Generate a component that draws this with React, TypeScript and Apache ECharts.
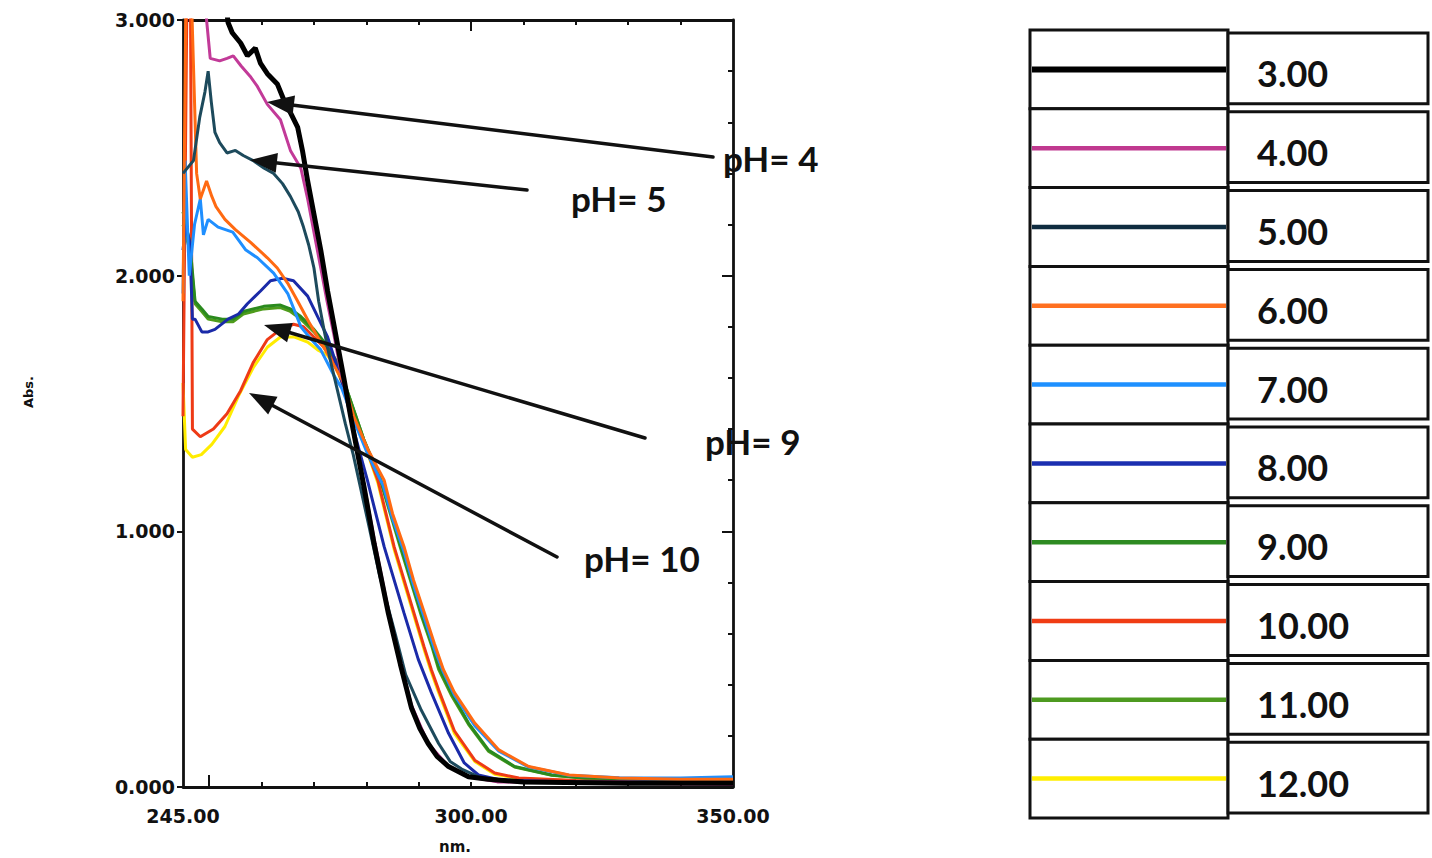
import React, { useEffect, useRef } from 'react';
import * as echarts from 'echarts';

// ---- data ----
const PH_LABELS = ['3.00', '4.00', '5.00', '6.00', '7.00', '8.00', '9.00', '10.00', '11.00', '12.00'];

const ph3 = [[245,3.3],[250,3.3],[253,3.1],[253.6,2.99],[254.4,2.95],[256,2.91],[257.3,2.86],[258.8,2.89],[259.8,2.83],[261.1,2.79],[263,2.75],[264.2,2.69],[265.2,2.65],[266.9,2.58],[267.8,2.49],[268.8,2.37],[270,2.24],[271.3,2.1],[272.6,1.94],[273.7,1.82],[274.6,1.72],[275.7,1.6],[277,1.45],[278.2,1.32],[279.5,1.18],[281.5,0.95],[284.2,0.68],[286.5,0.48],[288.6,0.31],[290.2,0.23],[291.8,0.17],[293.5,0.12],[295.7,0.08],[299.5,0.04],[303.3,0.03],[310,0.02],[330,0.015],[350,0.015]];
const ph4 = [[245,3.3],[248.6,3.3],[249.5,3.0],[250.2,2.85],[252,2.84],[253.4,2.85],[254.6,2.86],[256.1,2.82],[257.8,2.78],[259.2,2.74],[261.1,2.67],[263.6,2.61],[265.5,2.49],[267.5,2.42],[268.8,2.3],[270,2.17],[271.3,2.03],[272.5,1.9],[273.8,1.77],[275,1.64],[276.5,1.5],[278,1.35],[279.5,1.19],[281.5,0.97],[284.2,0.69],[286.5,0.49],[288.6,0.32],[291.8,0.17],[295.7,0.08],[299.5,0.04],[305,0.02],[350,0.01]];
const ph5 = [[245,2.4],[247,2.45],[248.2,2.62],[249.2,2.72],[249.8,2.8],[250.4,2.68],[251.1,2.56],[252,2.52],[253.4,2.48],[255,2.49],[256.5,2.47],[258.4,2.45],[260.5,2.42],[262.3,2.4],[264,2.36],[265.5,2.31],[267,2.25],[268,2.19],[269,2.12],[270,2.03],[270.9,1.9],[272,1.78],[273,1.68],[274.5,1.55],[276,1.42],[277.5,1.3],[279,1.16],[280.5,1.02],[282.5,0.83],[285.5,0.6],[287.5,0.44],[290.5,0.3],[293.8,0.17],[296,0.1],[298.2,0.07],[302,0.035],[310,0.02],[350,0.015]];
const ph6 = [[245,1.9],[245.6,3.2],[246.6,3.1],[247.6,2.4],[248.3,2.3],[249.5,2.37],[250.5,2.31],[251.3,2.27],[253,2.22],[255,2.18],[257.9,2.13],[261.1,2.07],[263,2.03],[265,1.97],[266.9,1.9],[269,1.82],[271,1.75],[273,1.68],[275.7,1.58],[277.6,1.45],[280.3,1.32],[283.4,1.2],[285,1.07],[287.2,0.94],[289,0.81],[291.1,0.68],[293,0.56],[294.7,0.46],[296.8,0.37],[300.7,0.25],[305.3,0.145],[311,0.08],[318.7,0.047],[328.3,0.035],[340,0.03],[350,0.03]];
const ph7 = [[245,1.93],[245.4,2.45],[246.2,2.0],[247.2,2.2],[248.3,2.3],[248.9,2.16],[249.8,2.22],[251.7,2.19],[254.5,2.17],[257,2.1],[259.2,2.07],[262.3,2.01],[265,1.93],[267.5,1.8],[269.5,1.75],[271.3,1.71],[273.8,1.61],[275.3,1.56],[277.5,1.44],[280.3,1.3],[283.2,1.18],[285,1.05],[287.2,0.92],[289,0.79],[291.1,0.66],[293,0.54],[294.7,0.45],[296.8,0.36],[300.7,0.24],[305.3,0.14],[311,0.078],[318.7,0.046],[328.3,0.036],[340,0.035],[350,0.04]];
const ph8 = [[245,2.1],[245.5,2.2],[246.3,2.13],[246.8,1.83],[247.3,1.83],[248.6,1.78],[249.8,1.78],[251.1,1.79],[253.6,1.83],[255.6,1.85],[257.3,1.89],[259.8,1.94],[261.7,1.98],[264,1.99],[266.1,1.98],[268.8,1.92],[270.7,1.84],[272.6,1.76],[274,1.67],[275.7,1.56],[277.8,1.38],[280.2,1.2],[283.4,0.94],[287.2,0.68],[289.9,0.5],[292.4,0.37],[295.7,0.21],[298.7,0.094],[301.4,0.047],[305.8,0.027],[320,0.02],[350,0.02]];
const ph9 = [[245,2.25],[246.3,2.13],[247.3,1.9],[248.6,1.87],[249.8,1.84],[252.5,1.83],[254.6,1.83],[256.5,1.86],[258.4,1.87],[260.4,1.88],[263.6,1.885],[265.5,1.87],[267.5,1.84],[270,1.79],[272,1.74],[274.5,1.66],[276.5,1.54],[279.5,1.36],[282.8,1.2],[286.6,0.94],[290.5,0.68],[292.5,0.56],[293.8,0.47],[296.2,0.37],[299.5,0.25],[303.3,0.145],[308.3,0.08],[315.4,0.047],[321.8,0.035],[335,0.03],[350,0.03]];
const ph10 = [[245,1.45],[245.8,3.2],[246.4,3.2],[246.8,1.4],[248.3,1.37],[250.8,1.4],[253.4,1.46],[256,1.55],[258.4,1.66],[261.1,1.75],[263.6,1.79],[266.1,1.81],[268,1.8],[270,1.76],[271.9,1.72],[274,1.66],[276,1.55],[279,1.38],[282.2,1.2],[285.3,0.94],[289.1,0.68],[291,0.55],[292.4,0.46],[293.8,0.38],[296.8,0.22],[300.7,0.105],[304.5,0.055],[309.1,0.035],[320,0.025],[350,0.02]];
const ph11 = [[245,2.2],[246.3,2.1],[247.3,1.89],[248.6,1.86],[249.8,1.83],[252.5,1.82],[254.6,1.82],[256.5,1.85],[258.4,1.86],[260.4,1.87],[263.6,1.875],[265.5,1.86],[267.5,1.83],[270,1.78],[272,1.73],[274.5,1.65],[276.5,1.54],[279.5,1.36],[282.8,1.19],[286.6,0.93],[290.5,0.67],[292.5,0.55],[293.8,0.46],[296.2,0.36],[299.5,0.245],[303.3,0.14],[308.3,0.078],[315.4,0.046],[321.8,0.034],[335,0.03],[350,0.03]];
const ph12 = [[245,1.58],[245.5,1.32],[246.8,1.29],[248.5,1.3],[250.5,1.34],[253,1.41],[255.6,1.53],[258.4,1.64],[261.1,1.72],[263.6,1.76],[266.3,1.76],[268.8,1.74],[270.7,1.71],[272.5,1.69],[274,1.65],[276,1.55],[279,1.38],[282.2,1.19],[285.3,0.93],[289.1,0.67],[291,0.54],[292.4,0.45],[293.8,0.37],[296.8,0.21],[300.7,0.1],[304.5,0.05],[309.1,0.033],[320,0.024],[350,0.02]];

const SERIES_DATA = [ph3, ph4, ph5, ph6, ph7, ph8, ph9, ph10, ph11, ph12];

const X_LABEL_VALUES = [245, 300, 350];
const X_TICK_VALUES = [260, 270, 280, 290, 300, 310, 320, 330, 340];

const ANNOTATION_TEXTS = ['pH= 4', 'pH= 5', 'pH= 9', 'pH= 10'];

// ---- styles ----
const LINE_COLORS = ['#000000', '#c23a98', '#1d4a5c', '#ff6a12', '#1f8fff', '#1a2aa8', '#2a8a1e', '#ee3a16', '#4e9c1c', '#ffec00'];
const LEGEND_COLORS = ['#000000', '#c0398f', '#0f2c40', '#ff7020', '#1e90ff', '#1b2fb0', '#2e8b22', '#f03c14', '#4d9a20', '#ffee00'];
const INK = '#111111';

export default function App() {
  const ref = useRef<HTMLDivElement>(null);

  useEffect(() => {
    if (!ref.current) return;
    const chart = echarts.init(ref.current, null, { renderer: 'svg' });

    const graphic: any[] = [];

    // Legend table
    const lx0 = 1030, lx1 = 1228, lx2 = 1428, lTop = 30, lBottom = 818;
    const rowH = (lBottom - lTop) / PH_LABELS.length;
    PH_LABELS.forEach((lab, i) => {
      const yTop = lTop + i * rowH;
      graphic.push({ type: 'rect', shape: { x: lx0, y: yTop, width: lx1 - lx0, height: rowH }, style: { fill: '#fff', stroke: INK, lineWidth: 3 } });
      graphic.push({ type: 'line', shape: { x1: lx0 + 2, y1: yTop + rowH / 2, x2: lx1 - 2, y2: yTop + rowH / 2 }, style: { stroke: LEGEND_COLORS[i], lineWidth: i === 0 ? 6 : 4.5 } });
      graphic.push({ type: 'rect', shape: { x: lx1, y: yTop + 3, width: lx2 - lx1, height: rowH - 8 }, style: { fill: '#fff', stroke: INK, lineWidth: 3 } });
      graphic.push({ type: 'text', x: 1257, y: yTop + rowH / 2 + 4, style: { text: lab, fontSize: 36, fontFamily: 'Lato', fontWeight: 'bold', fill: INK, align: 'left', verticalAlign: 'middle' } });
    });

    // Arrows + labels
    const arrows = [
      { tail: [713, 157], tip: [267, 102], label: [723, 158] },
      { tail: [527, 190], tip: [250, 160], label: [571, 198] },
      { tail: [645, 438], tip: [264, 325], label: [705, 441] },
      { tail: [557, 557], tip: [249, 393], label: [584, 558] },
    ];
    arrows.forEach((a, i) => {
      const dx = a.tip[0] - a.tail[0];
      const dy = a.tip[1] - a.tail[1];
      const len = Math.sqrt(dx * dx + dy * dy);
      const ux = dx / len, uy = dy / len;
      const nx = -uy, ny = ux;
      const hl = 27, hw = 10;
      const bx = a.tip[0] - ux * hl, by = a.tip[1] - uy * hl;
      graphic.push({ type: 'line', z: 100, shape: { x1: a.tail[0], y1: a.tail[1], x2: bx + ux * 4, y2: by + uy * 4 }, style: { stroke: INK, lineWidth: 3.5, lineCap: 'round' } });
      graphic.push({ type: 'polygon', z: 100, shape: { points: [[a.tip[0], a.tip[1]], [bx + nx * hw, by + ny * hw], [bx - nx * hw, by - ny * hw]] }, style: { fill: INK } });
      graphic.push({ type: 'text', z: 100, x: a.label[0], y: a.label[1], style: { text: ANNOTATION_TEXTS[i], fontSize: 35, fontFamily: 'Lato', fontWeight: 'bold', fill: INK, align: 'left', verticalAlign: 'middle' } });
    });

    // Axis names
    graphic.push({ type: 'text', x: 28, y: 392, rotation: Math.PI / 2, style: { text: 'Abs.', fontSize: 13, fontFamily: 'DejaVu Sans', fontWeight: 'bold', fill: INK, align: 'center', verticalAlign: 'middle' } });
    graphic.push({ type: 'text', x: 455, y: 847, style: { text: 'nm.', fontSize: 15, fontFamily: 'DejaVu Sans', fontWeight: 'bold', fill: INK, align: 'center', verticalAlign: 'middle' } });

    const axisLineStyle = { color: INK, width: 2.8 };
    const labelFont = { fontFamily: 'DejaVu Sans', fontWeight: 'bold' as const, fontSize: 19, color: INK };

    chart.setOption({
      animation: false,
      backgroundColor: '#ffffff',
      grid: { left: 183, right: 699, top: 20, bottom: 71, containLabel: false, outerBoundsMode: 'none' },
      xAxis: [
        {
          type: 'value', position: 'bottom', min: 245, max: 350,
          axisLine: { show: true, onZero: false, lineStyle: axisLineStyle },
          axisTick: { show: true, inside: true, length: 5, customValues: X_TICK_VALUES, lineStyle: { color: INK, width: 2 } },
          axisLabel: { show: true, customValues: X_LABEL_VALUES, formatter: (v: number) => v.toFixed(2), margin: 19, ...labelFont },
          splitLine: { show: false },
        },
        {
          type: 'value', position: 'bottom', min: 245, max: 350,
          axisLine: { show: false, onZero: false },
          axisTick: { show: true, inside: true, length: 12, customValues: [250], lineStyle: { color: INK, width: 2 } },
          axisLabel: { show: false },
          splitLine: { show: false },
        },
        {
          type: 'value', position: 'top', min: 245, max: 350,
          axisLine: { show: true, onZero: false, lineStyle: axisLineStyle },
          axisTick: { show: true, inside: true, length: 5, customValues: X_TICK_VALUES, lineStyle: { color: INK, width: 2 } },
          axisLabel: { show: false },
          splitLine: { show: false },
        },
        {
          type: 'value', position: 'top', min: 245, max: 350,
          axisLine: { show: false, onZero: false },
          axisTick: { show: true, inside: true, length: 11, customValues: [300], lineStyle: { color: INK, width: 2 } },
          axisLabel: { show: false },
          splitLine: { show: false },
        },
      ],
      yAxis: [
        {
          type: 'value', position: 'left', min: 0, max: 3, interval: 1,
          axisLine: { show: true, onZero: false, lineStyle: axisLineStyle },
          axisTick: { show: true, inside: false, length: 6, lineStyle: { color: INK, width: 2 } },
          axisLabel: { show: true, formatter: (v: number) => v.toFixed(3), margin: 8, ...labelFont },
          splitLine: { show: false },
        },
        {
          type: 'value', position: 'right', min: 0, max: 3, interval: 0.2,
          axisLine: { show: true, onZero: false, lineStyle: axisLineStyle },
          axisTick: { show: true, inside: true, length: 5, lineStyle: { color: INK, width: 2 } },
          axisLabel: { show: false },
          splitLine: { show: false },
        },
        {
          type: 'value', position: 'right', min: 0, max: 3, interval: 1,
          axisLine: { show: false, onZero: false },
          axisTick: { show: true, inside: true, length: 11, lineStyle: { color: INK, width: 2 } },
          axisLabel: { show: false },
          splitLine: { show: false },
        },
      ],
      series: SERIES_DATA.map((d, i) => ({
        type: 'line',
        name: PH_LABELS[i],
        data: d,
        xAxisIndex: 0,
        yAxisIndex: 0,
        showSymbol: false,
        symbol: 'none',
        clip: true,
        silent: true,
        z: 20 - i,
        lineStyle: { color: LINE_COLORS[i], width: i === 0 ? 5 : 3 },
      })),
      graphic,
    });

    return () => chart.dispose();
  }, []);

  return (
    <div
      ref={ref}
      style={{ position: 'fixed', left: 0, top: 0, width: 1432, height: 858, background: '#fff' }}
    />
  );
}
